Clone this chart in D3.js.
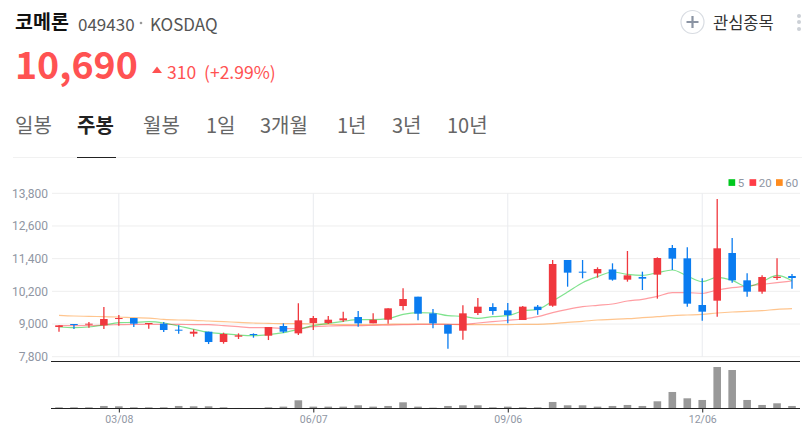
<!DOCTYPE html>
<html>
<head>
<meta charset="utf-8">
<script src="https://cdn.jsdelivr.net/npm/d3@7"></script>
<style>
  html, body { margin: 0; padding: 0; background: #fff; }
  svg { display: block; font-family: "Noto Sans CJK KR", "Noto Sans", sans-serif; }
</style>
</head>
<body>
<div id="chart"></div>
<script>
var weeks = ["02/08","02/15","02/22","03/01","03/08","03/15","03/22","03/29","04/05","04/12",
  "04/19","04/26","05/03","05/10","05/17","05/24","05/31","06/07","06/14","06/21",
  "06/28","07/05","07/12","07/19","07/26","08/02","08/09","08/16","08/23","08/30",
  "09/06","09/13","09/20","09/27","10/04","10/11","10/18","10/25","11/01","11/08",
  "11/15","11/22","11/29","12/06","12/13","12/20","12/27","01/03","01/10","01/17"];
var tickWeeks = ["03/08","06/07","09/06","12/06"];
var priceTicks = [7800,9000,10200,11400,12600,13800];

var opens = [8890,9000,8975,8951,9184,9220,9012,9012,8792,8645,8718,8339,8535,8633,8571,8927,8657,9037,9037,9135,
  9257,9024,9159,9661,10004,9392,8976,8755,9404,9624,9502,9147,9637,9673,11351,10922,10861,11004,10629,10727,
  10812,11792,11412,9698,9857,11608,10604,10188,10690,10763];
var closes = [8951,8963,9012,9184,9220,9012,9037,8780,8755,8718,8339,8633,8584,8596,8890,8718,9135,9220,9159,9208,
  9024,9159,9576,9918,9380,9024,8645,9392,9637,9478,9330,9637,9514,11204,10886,10886,11020,10629,10788,10665,
  11424,11400,9747,9453,11780,10604,10188,10727,10739,10690];
var highs = [8951,9000,9073,9624,9330,9220,9037,9073,8951,8804,8718,8682,8657,8657,8890,9024,9759,9294,9294,9453,
  9478,9392,9576,10310,10004,9551,8976,9686,9955,9759,9771,9661,9698,11351,11351,11351,11082,11229,11682,10922,
  11449,11902,11816,10678,13592,12159,10861,10788,11412,10837];
var lows = [8718,8816,8865,8816,8939,8890,8829,8706,8645,8535,8265,8278,8449,8498,8412,8669,8596,8780,9000,9073,
  8902,9024,9012,9502,9135,8841,8094,8425,9330,9343,9024,9147,9343,9637,10371,10678,10702,10592,10555,10249,
  9931,10984,9637,9122,9269,10518,10004,10114,10616,10298];

var ma5 = [8890,8865,8890,8963,9049,9061,9086,9037,8927,8804,8694,8645,8596,8571,8608,8682,8804,8939,9024,9098,
  9159,9159,9196,9355,9416,9404,9306,9282,9208,9269,9306,9478,9539,9845,10176,10518,10739,10910,10825,10788,
  10886,10984,10763,10555,10714,10604,10371,10555,10788,10592];
var ma20 = [8939,8939,8939,8963,8976,8988,8988,8988,8988,8976,8976,8939,8902,8865,8865,8841,8829,8902,8927,8939,
  8939,8951,8963,8976,8988,8988,8988,8988,9037,9086,9135,9184,9269,9416,9539,9637,9686,9735,9845,9906,
  10016,10151,10151,10127,10249,10335,10396,10457,10518,10580];
var ma60 = [9318,9294,9282,9269,9257,9233,9220,9171,9147,9135,9110,9086,9061,9037,9024,9012,9012,9000,8988,8976,
  8976,8976,8988,9000,9000,9000,8988,8976,8976,8976,8976,8988,8988,9012,9061,9098,9147,9171,9196,9233,
  9269,9306,9331,9355,9404,9441,9465,9490,9539,9563];

var volumes = [3,3,3,7,6,3,3,3,7,6,6,3,1,1,3,5,24,5,5,5,
  9,5,7,18,5,2,7,9,9,3,5,3,3,19,9,9,5,7,10,7,
  21,49,30,25,124,115,25,10,15,7];

var maNames = ["5","20","60"];
var maColors = ["#00c81e","#ff3c46","#ff8c1e"];
var tabs = ["일봉","주봉","월봉","1일","3개월","1년","3년","10년"];
var tabX = [15,77,143,206,260,337,392,447];
var menuDots = [16,22,29];

var width = 802, height = 432;
var red = "#f0383e", blue = "#0a7cf0";

var svg = d3.select("#chart").append("svg")
  .attr("width", width)
  .attr("height", height);

// header
function label(x, y, txt, size, color, weight) {
  return svg.append("text").attr("x", x).attr("y", y).text(txt)
    .attr("font-size", size).attr("fill", color).attr("font-weight", weight || 400);
}

label(15, 29, "코메론", 19.5, "#111", 700);
label(78, 31, "049430", 17, "#555");
svg.append("circle").attr("cx", 141).attr("cy", 23).attr("r", 1.3).attr("fill", "#999");
label(150, 31, "KOSDAQ", 17, "#555");

svg.append("circle").attr("cx", 692.5).attr("cy", 22).attr("r", 11.5)
  .attr("fill", "#fff").attr("stroke", "#d8dce2").attr("stroke-width", 1.2);
svg.append("path").attr("d", "M686.5 22H698.5M692.5 16V28")
  .attr("stroke", "#8b94a3").attr("stroke-width", 2.2);
label(713, 28.5, "관심종목", 16.5, "#333");
svg.append("g").selectAll("circle").data(menuDots).enter().append("circle")
  .attr("cx", 799).attr("cy", function(d) { return d; }).attr("r", 2).attr("fill", "#ccd0d6");

label(15, 79, "10,690", 37.5, "#ff5252", 700);
svg.append("path").attr("d", "M152 73L157 66.5L162 73Z").attr("fill", "#ff5252");
label(167, 79, "310", 17.5, "#ff5252");
label(204, 79, "(+2.99%)", 17.5, "#ff5252");

tabs.forEach(function(t, i) {
  label(tabX[i], 132.5, t, 20, i == 1 ? "#222" : "#666", i == 1 ? 700 : 400);
});
svg.append("line").attr("x1", 13).attr("x2", 802).attr("y1", 157.5).attr("y2", 157.5)
  .attr("stroke", "#f1f1f1");
svg.append("line").attr("x1", 77).attr("x2", 116).attr("y1", 157.5).attr("y2", 157.5)
  .attr("stroke", "#222");

// scales
var x = d3.scalePoint().domain(weeks).range([59, 792]);
var y = d3.scaleLinear().domain([7800, 13800]).range([356.7, 193.3]);
var yVol = d3.scaleLinear().domain([0, d3.max(volumes)]).range([408.3, 367]);

// grid
svg.append("g").selectAll("line").data(priceTicks).enter().append("line")
  .attr("x1", 52).attr("x2", 800)
  .attr("y1", function(d) { return y(d); }).attr("y2", function(d) { return y(d); })
  .attr("stroke", "#eeeeee");
svg.append("g").selectAll("line").data(tickWeeks).enter().append("line")
  .attr("x1", function(d) { return x(d); }).attr("x2", function(d) { return x(d); })
  .attr("y1", 193.3).attr("y2", 356.7)
  .attr("stroke", "#e9ebef");

// y axis
var yAxis = svg.append("g").attr("transform", "translate(48,0)")
  .call(d3.axisLeft(y).tickValues(priceTicks).tickFormat(d3.format(",")).tickSize(0).tickPadding(0));
yAxis.select(".domain").remove();
yAxis.selectAll("text").attr("font-size", 12).attr("fill", "#8f96a3")
  .attr("font-family", "Roboto, sans-serif");

// moving averages
var line = d3.line()
  .x(function(d, i) { return x(weeks[i]); })
  .y(function(d) { return y(d); })
  .curve(d3.curveMonotoneX);

[ma60, ma20, ma5].forEach(function(s, i) {
  svg.append("path").attr("d", line(s)).attr("fill", "none")
    .attr("stroke", maColors[2 - i]).attr("stroke-width", 1.2).attr("opacity", 0.5);
});

// candles
var candles = svg.append("g").selectAll("g").data(weeks).enter().append("g");
function candleColor(i) { return closes[i] >= opens[i] ? red : blue; }

candles.append("line")
  .attr("x1", function(d) { return x(d); }).attr("x2", function(d) { return x(d); })
  .attr("y1", function(d, i) { return y(highs[i]); })
  .attr("y2", function(d, i) { return y(lows[i]); })
  .attr("stroke", function(d, i) { return candleColor(i); })
  .attr("stroke-width", 1.3);
candles.append("rect")
  .attr("x", function(d) { return x(d) - 3.8; })
  .attr("width", 7.6)
  .attr("y", function(d, i) { return y(Math.max(opens[i], closes[i])); })
  .attr("height", function(d, i) { return Math.max(1, y(Math.min(opens[i], closes[i])) - y(Math.max(opens[i], closes[i]))); })
  .attr("fill", function(d, i) { return candleColor(i); });

// legend
var legendX = [728.5, 749.5, 776];
maNames.forEach(function(n, i) {
  svg.append("rect").attr("x", legendX[i]).attr("y", 179.2).attr("width", 6.7).attr("height", 6.7)
    .attr("fill", maColors[i]);
  label(legendX[i] + 9.2, 187, n, 11.5, "#8f96a3").attr("font-family", "Roboto, sans-serif");
});

// volume
svg.append("g").selectAll("rect").data(volumes).enter().append("rect")
  .attr("x", function(d, i) { return x(weeks[i]) - 3.8; })
  .attr("width", 7.6)
  .attr("y", function(d) { return yVol(d); })
  .attr("height", function(d) { return 408.3 - yVol(d); })
  .attr("fill", "#999999");

svg.append("line").attr("x1", 51).attr("x2", 800).attr("y1", 361.5).attr("y2", 361.5)
  .attr("stroke", "#222").attr("stroke-width", 1);

var xAxis = svg.append("g").attr("transform", "translate(0,408.5)")
  .call(d3.axisBottom(x).tickValues(tickWeeks).tickSize(4).tickPadding(3));
xAxis.select(".domain").attr("d", "M51 0H800").attr("stroke", "#222");
xAxis.selectAll(".tick line").attr("stroke", "#222");
xAxis.selectAll("text").attr("font-size", 10.5).attr("fill", "#8f96a3")
  .attr("font-family", "Roboto, sans-serif");
</script>
</body>
</html>
